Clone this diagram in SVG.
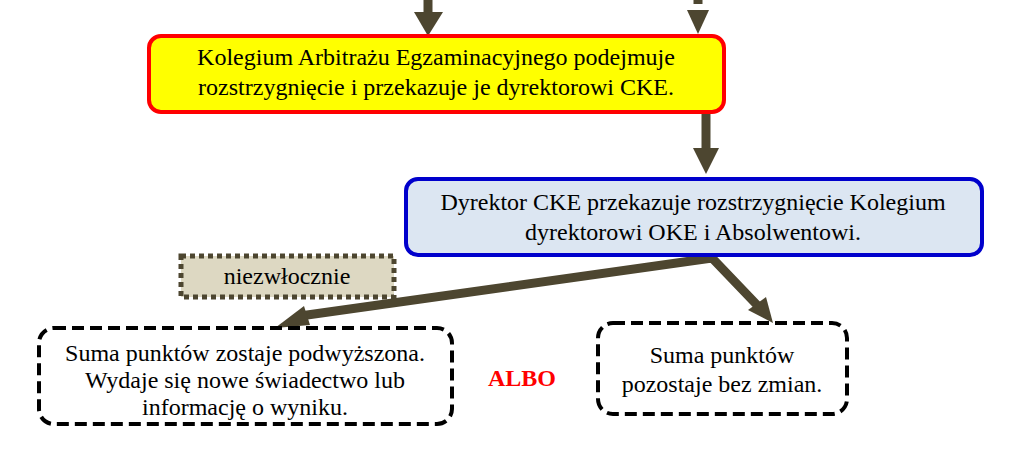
<svg xmlns="http://www.w3.org/2000/svg" width="1020" height="451" viewBox="0 0 1020 451">
<defs>
<style>
text{font-family:'Liberation Serif',serif !important;font-size:24px;fill:#000;text-anchor:middle}
.conn{stroke:#4d4630;stroke-width:9;fill:none}
.head{fill:#4d4630}
</style>
</defs>
<rect width="1020" height="451" fill="#fff"/>
<g id="connectors">
<line class="conn" x1="428" y1="0" x2="428" y2="14"/>
<polygon class="head" points="414,12 443,12 428,36"/>
<line class="conn" x1="698" y1="0" x2="698" y2="4"/>
<polygon class="head" points="687,10 709,10 698,34"/>
<line class="conn" x1="706" y1="112" x2="706" y2="150"/>
<polygon class="head" points="693,148 719,148 706,174"/>
<polyline class="conn" points="300,316 712,258 758,306"/>
<polygon class="head" points="275,328 304,306 310,325"/>
<polygon class="head" points="773,323 748,310 766,297"/>
</g>
<g id="n1">
<rect x="149" y="36" width="575" height="76" rx="12" fill="#ffff00" stroke="#ff0000" stroke-width="4"/>
<text x="436" y="65" style="font-family:'Liberation Serif',serif">Kolegium Arbitrażu Egzaminacyjnego podejmuje</text>
<text x="436" y="95" style="font-family:'Liberation Serif',serif">rozstrzygnięcie i przekazuje je dyrektorowi CKE.</text>
</g>
<g id="n2">
<rect x="406" y="179" width="576" height="76" rx="12" fill="#dce6f2" stroke="#0000cc" stroke-width="4"/>
<text x="693" y="210" style="font-family:'Liberation Serif',serif">Dyrektor CKE przekazuje rozstrzygnięcie Kolegium</text>
<text x="693" y="240" style="font-family:'Liberation Serif',serif">dyrektorowi OKE i Absolwentowi.</text>
</g>
<g id="label">
<rect x="181" y="256" width="213" height="41" fill="#ddd8c2" stroke="#4d4630" stroke-width="5" stroke-dasharray="5 4"/>
<text x="287" y="284" style="font-family:'Liberation Serif',serif">niezwłocznie</text>
</g>
<g id="n3">
<rect x="39" y="328" width="413" height="96" rx="15" fill="#fff" stroke="#000" stroke-width="4" stroke-dasharray="12 6"/>
<text x="245" y="361" style="font-family:'Liberation Serif',serif">Suma punktów zostaje podwyższona.</text>
<text x="245" y="388" style="font-family:'Liberation Serif',serif">Wydaje się nowe świadectwo lub</text>
<text x="245" y="415" style="font-family:'Liberation Serif',serif">informację o wyniku.</text>
</g>
<g id="albo">
<text x="522" y="386" style="font-family:'Liberation Serif',serif;font-weight:bold;fill:#ff0000">ALBO</text>
</g>
<g id="n4">
<rect x="598" y="323" width="249" height="91" rx="15" fill="#fff" stroke="#000" stroke-width="4" stroke-dasharray="12 6"/>
<text x="722" y="363" style="font-family:'Liberation Serif',serif">Suma punktów</text>
<text x="722" y="392" style="font-family:'Liberation Serif',serif">pozostaje bez zmian.</text>
</g>
</svg>
